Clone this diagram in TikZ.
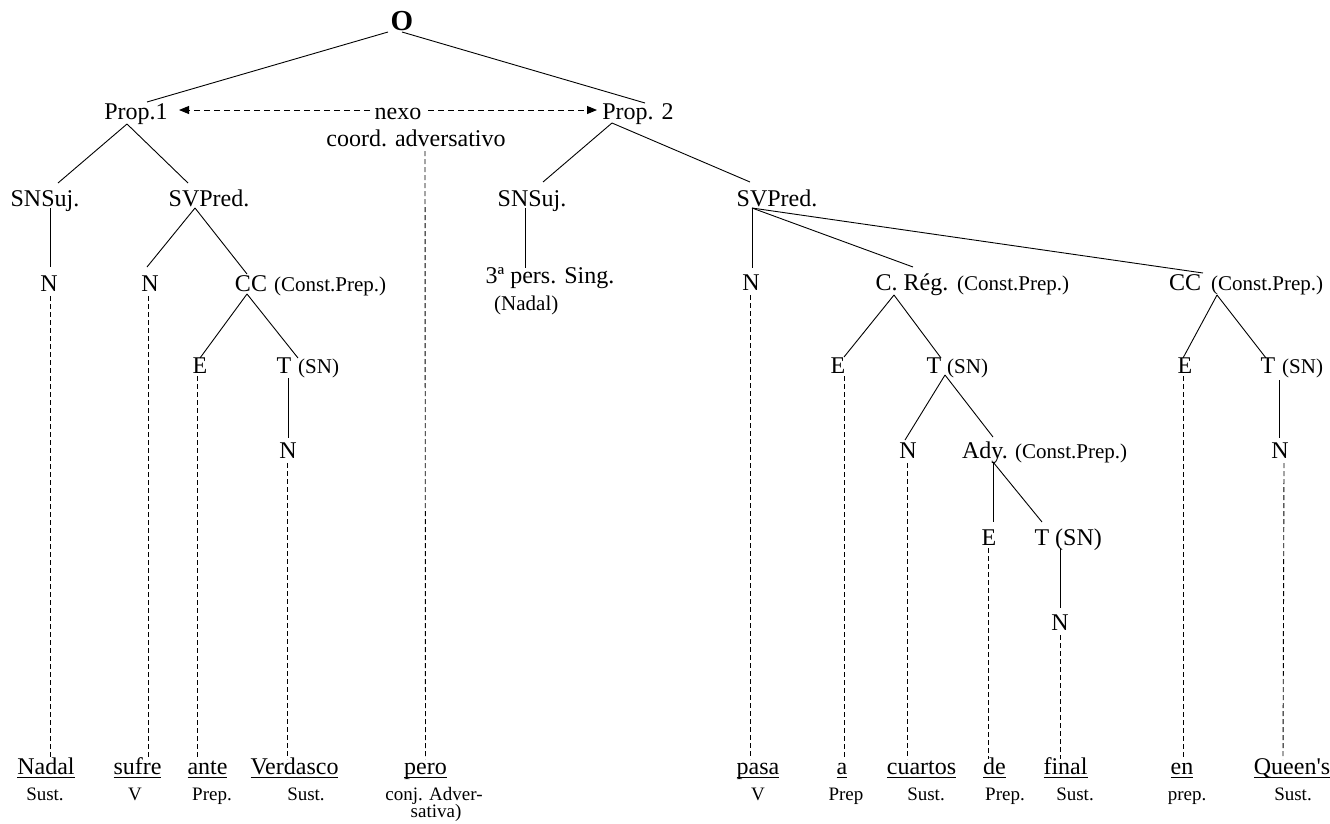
\documentclass[tikz,border=0pt]{standalone}
\usepackage{fontspec}
\setmainfont{Liberation Serif}
\newfontfamily\rawfont{Liberation Serif}[Ligatures=ResetAll]
\usetikzlibrary{arrows.meta}
\newcommand{\ulw}[1]{\setbox0\hbox{#1}\rlap{\rule[-4pt]{\wd0}{1.2pt}}\box0}
\begin{document}
\begin{tikzpicture}[x=1pt,y=-1pt,
  every node/.style={inner sep=0pt, anchor=base},
  lbl/.style={font=\fontsize{24}{28}\selectfont},
  sml/.style={font=\fontsize{21}{24}\selectfont},
  tag/.style={font=\fontsize{19}{22}\selectfont},
  wrd/.style={font=\fontsize{24}{28}\selectfont},
  br/.style={line width=0.9pt},
  dl/.style={line width=0.9pt, dash pattern=on 5pt off 3pt},
  ar/.style={line width=0.9pt, dash pattern=on 6pt off 4pt, -{Triangle[length=10pt,width=8pt]}}]
\useasboundingbox (0,0) rectangle (1330,823);
% tree nodes
\node[font=\bfseries\fontsize{29}{32}\selectfont] (O) at (402,30) {O};
\node[lbl] (p1) at (136,119) {Prop.1};
\node[lbl] (nexo) at (398,119) {nexo};
\node[lbl] (p2) at (638,119) {Prop. 2};
\node[lbl] (coord) at (416,146) {coord. adversativo};
\node[lbl] (sn1) at (45,206) {SNSuj.};
\node[lbl] (sv1) at (209,206) {SVPred.};
\node[lbl] (sn2) at (532,206) {SNSuj.};
\node[lbl] (sv2) at (777,206) {SVPred.};
\node[lbl] (n1) at (49,291) {N};
\node[lbl] (n2) at (150,291) {N};
\node[lbl] (cc1) at (251,291) {CC};
\node[sml,anchor=base west] (cc1l) at (274,291) {(Const.Prep.)};
\node[lbl] (pers) at (550,283) {3ª pers. Sing.};
\node[sml,anchor=base west] (persl) at (494,310) {(Nadal)};
\node[lbl] (n3) at (751,290) {N};
\node[lbl] (creg) at (912,290) {C. Rég.};
\node[sml,anchor=base west] (cregl) at (957,290) {(Const.Prep.)};
\node[lbl] (cc2) at (1185,290) {CC};
\node[sml,anchor=base west] (cc2l) at (1211,290) {(Const.Prep.)};
\node[lbl] (e1) at (200,373) {E};
\node[lbl] (t1) at (284,373) {T};
\node[sml,anchor=base west] (t1l) at (298,373) {(SN)};
\node[lbl] (e2) at (838,373) {E};
\node[lbl] (t2) at (934,373) {T};
\node[sml,anchor=base west] (t2l) at (947,373) {(SN)};
\node[lbl] (e3) at (1185,373) {E};
\node[lbl] (t3) at (1268,373) {T};
\node[sml,anchor=base west] (t3l) at (1282,373) {(SN)};
\node[lbl] (n4) at (288,458) {N};
\node[lbl] (n5) at (908,458) {N};
\node[lbl] (ady) at (985,458) {Ady.};
\node[sml,anchor=base west] (adyl) at (1015,458) {(Const.Prep.)};
\node[lbl] (n6) at (1280,458) {N};
\node[lbl] (e4) at (989,545) {E};
\node[lbl] (t4) at (1042,545) {T};
\node[lbl,anchor=base west] (t4l) at (1055,545) {(SN)};
\node[lbl] (n7) at (1060,630) {N};
% words
\node[wrd] (w1) at (46,774) {\ulw{Nadal}};
\node[wrd] (w2) at (137.5,774) {\ulw{sufre}};
\node[wrd] (w3) at (207.5,774) {\ulw{ante}};
\node[wrd] (w4) at (294.5,774) {\ulw{Verdasco}};
\node[wrd] (w5) at (425.5,774) {\ulw{pero}};
\node[wrd] (w6) at (758,774) {\ulw{pasa}};
\node[wrd] (w7) at (842,774) {\ulw{a}};
\node[wrd] (w8) at (921.5,774) {\ulw{cuartos}};
\node[wrd] (w9) at (994.5,774) {\ulw{de}};
\node[wrd] (w10) at (1065.5,774) {\ulw{final}};
\node[wrd] (w11) at (1182,774) {\ulw{en}};
\node[wrd] (w12) at (1292,774) {\ulw{Queen{\rawfont'}s}};
% tags
\node[tag] (g1) at (45,800) {Sust.};
\node[tag] (g2) at (135,800) {V};
\node[tag] (g3) at (212,800) {Prep.};
\node[tag] (g4) at (306,800) {Sust.};
\node[tag] (g5) at (434,800) {conj. Adver-};
\node[tag] (g5b) at (436,817) {sativa)};
\node[tag] (g6) at (758,800) {V};
\node[tag] (g7) at (846,800) {Prep};
\node[tag] (g8) at (926,800) {Sust.};
\node[tag] (g9) at (1005,800) {Prep.};
\node[tag] (g10) at (1075,800) {Sust.};
\node[tag] (g11) at (1187,800) {prep.};
\node[tag] (g12) at (1293,800) {Sust.};
% branches
\draw[br] ([shift={(-14,2)}]O.base) -- ([shift={(11,-17)}]p1.base);
\draw[br] ([shift={(0,2)}]O.base) -- ([shift={(7,-16)}]p2.base);
\draw[ar] ([shift={(-28,-9)}]nexo.base) -- ([shift={(43,-9)}]p1.base);
\draw[ar] ([shift={(30,-9)}]nexo.base) -- ([shift={(-41,-9)}]p2.base);
\draw[dl] ([shift={(9,5)}]coord.base) -- ([shift={(0,-15)}]w5.base);
\draw[br] ([shift={(-9,5)}]p1.base) -- ([shift={(13,-23)}]sn1.base);
\draw[br] ([shift={(-9,5)}]p1.base) -- ([shift={(-21,-23)}]sv1.base);
\draw[br] ([shift={(5,2)}]sn1.base) -- ([shift={(1,-24)}]n1.base);
\draw[br] ([shift={(-14,2)}]sv1.base) -- ([shift={(-3,-24)}]n2.base);
\draw[br] ([shift={(-14,2)}]sv1.base) -- ([shift={(-4,-17)}]cc1.base);
\draw[dl] ([shift={(1,5)}]n1.base) -- ([shift={(4,-15)}]w1.base);
\draw[dl] ([shift={(-2,5)}]n2.base) -- ([shift={(10.5,-15)}]w2.base);
\draw[br] ([shift={(-4,3)}]cc1.base) -- ([shift={(0,-15)}]e1.base);
\draw[br] ([shift={(-4,3)}]cc1.base) -- ([shift={(14,-15)}]t1.base);
\draw[br] ([shift={(4,5)}]t1.base) -- ([shift={(0,-20)}]n4.base);
\draw[dl] ([shift={(-3,3)}]e1.base) -- ([shift={(-10.5,-15)}]w3.base);
\draw[dl] ([shift={(-1,5)}]n4.base) -- ([shift={(-7.5,-15)}]w4.base);
\draw[br] ([shift={(-26,4)}]p2.base) -- ([shift={(11,-24)}]sn2.base);
\draw[br] ([shift={(-26,4)}]p2.base) -- ([shift={(-27,-24)}]sv2.base);
\draw[br] ([shift={(-7,2)}]sn2.base) -- ([shift={(-25,-15)}]pers.base);
\draw[br] ([shift={(-25,2)}]sv2.base) -- ([shift={(1,-22)}]n3.base);
\draw[br] ([shift={(-25,2)}]sv2.base) -- ([shift={(1,-23)}]creg.base);
\draw[br] ([shift={(-25,2)}]sv2.base) -- ([shift={(18,-17)}]cc2.base);
\draw[dl] ([shift={(-1,5)}]n3.base) -- ([shift={(-8,-15)}]w6.base);
\draw[br] ([shift={(-18,5)}]creg.base) -- ([shift={(6,-16)}]e2.base);
\draw[br] ([shift={(-18,5)}]creg.base) -- ([shift={(7,-15)}]t2.base);
\draw[dl] ([shift={(6,3)}]e2.base) -- ([shift={(2,-15)}]w7.base);
\draw[br] ([shift={(11,2)}]t2.base) -- ([shift={(-3,-18)}]n5.base);
\draw[br] ([shift={(11,2)}]t2.base) -- ([shift={(8,-21)}]ady.base);
\draw[dl] ([shift={(-1,5)}]n5.base) -- ([shift={(-14.5,-15)}]w8.base);
\draw[br] ([shift={(8,4)}]ady.base) -- ([shift={(4,-23)}]e4.base);
\draw[br] ([shift={(8,4)}]ady.base) -- ([shift={(0,-23)}]t4.base);
\draw[dl] ([shift={(-1,3)}]e4.base) -- ([shift={(-6.5,-15)}]w9.base);
\draw[br] ([shift={(18,3)}]t4.base) -- ([shift={(0,-22)}]n7.base);
\draw[dl] ([shift={(0,5)}]n7.base) -- ([shift={(-5.5,-15)}]w10.base);
\draw[br] ([shift={(32,5)}]cc2.base) -- ([shift={(-2,-15)}]e3.base);
\draw[br] ([shift={(32,5)}]cc2.base) -- ([shift={(-2,-15)}]t3.base);
\draw[dl] ([shift={(-2,3)}]e3.base) -- ([shift={(1,-15)}]w11.base);
\draw[br] ([shift={(11,7)}]t3.base) -- ([shift={(-1,-20)}]n6.base);
\draw[dl] ([shift={(4,5)}]n6.base) -- ([shift={(-9,-15)}]w12.base);
\end{tikzpicture}
\end{document}
